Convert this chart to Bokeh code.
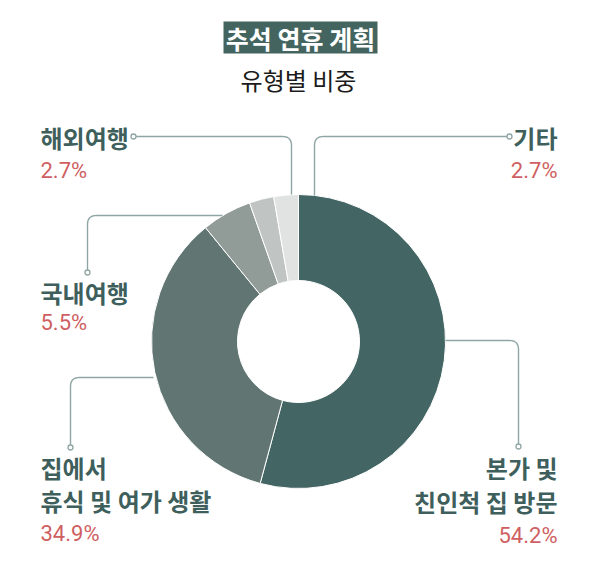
import numpy as np
from bokeh.plotting import figure
from bokeh.models import Range1d, ColumnDataSource
from bokeh.core.properties import value
from bokeh.embed import file_html
from bokeh.resources import INLINE

# ---- data ----
categories = ["본가 및|친인척 집 방문", "집에서|휴식 및 여가 생활", "국내여행", "해외여행", "기타"]
shares = [54.2, 34.9, 5.5, 2.7, 2.7]
slice_colors = ["#436664", "#617672", "#919b98", "#c0c5c3", "#e1e3e2"]
title_text = "추석 연휴 계획"
subtitle_text = "유형별 비중"

# ---- styles ----
LABEL_COLOR = "#3e5f5c"
PCT_COLOR = "#cf5f62"
LEADER_COLOR = "#8fa6a5"
KR = value("Noto Sans CJK KR")
NUM = value("Roboto")

W, H = 584, 566
p = figure(width=W, height=H, x_range=Range1d(0, W), y_range=Range1d(582 - H, 582),
           output_backend="svg", toolbar_location=None, min_border=0)
p.axis.visible = False
p.grid.visible = False
p.outline_line_color = None
p.background_fill_color = "white"
p.border_fill_color = "white"


def Y(s):
    return 582 - s


# ---- donut ----
frac = np.array(shares) / sum(shares)
cum = np.concatenate([[0.0], np.cumsum(frac)])
src = ColumnDataSource(dict(
    start=np.pi / 2 - cum[:-1] * 2 * np.pi,
    end=np.pi / 2 - cum[1:] * 2 * np.pi,
    color=slice_colors,
))
CX, CY = 298, Y(341)
p.annular_wedge(x=CX, y=CY, inner_radius=61, outer_radius=147,
                start_angle="start", end_angle="end", direction="clock",
                fill_color="color", line_color="white", line_width=1, source=src)


# ---- leader lines ----
def leader(a, b, c, r=9, n=10):
    a, b, c = np.array(a, float), np.array(b, float), np.array(c, float)
    d1 = (a - b) / np.linalg.norm(a - b)
    d2 = (c - b) / np.linalg.norm(c - b)
    s, e = b + d1 * r, b + d2 * r
    t = np.linspace(0, 1, n)[:, None]
    arc = (1 - t) ** 2 * s + 2 * (1 - t) * t * b + t ** 2 * e
    pts = np.vstack([a, arc, c])
    return list(pts[:, 0]), [Y(v) for v in pts[:, 1]]


leaders = [
    # (start, corner, end, dot at start?)
    ((133, 136), (291, 136), (291, 194), True),   # 해외여행
    ((509, 136), (314, 136), (314, 195), True),   # 기타
    ((222, 215), (87, 215), (87, 272), False),    # 국내여행
    ((153, 377), (70, 377), (70, 447), False),    # 집에서
    ((445, 340), (518, 340), (518, 446), False),  # 본가
]
dots_x, dots_y = [], []
for a, b, c, dot_start in leaders:
    xs, ys = leader(a, b, c)
    p.line(xs, ys, line_color=LEADER_COLOR, line_width=1.4)
    d = a if dot_start else c
    dots_x.append(d[0])
    dots_y.append(Y(d[1]))
p.scatter(dots_x, dots_y, marker="circle", size=5, fill_color="white",
          line_color=LEADER_COLOR, line_width=1.3)

# ---- labels ----
# index into categories/shares, anchor x, align, y of first line, line gap
label_pos = [
    (0, 557, "right", 467, 34),
    (1, 40, "left", 467, 33),
    (2, 40, "left", 292, 30),
    (3, 40, "left", 137, 33),
    (4, 557, "right", 137, 33),
]
for i, x, align, y0, gap in label_pos:
    lines = categories[i].split("|")
    for k, ln in enumerate(lines):
        p.text(x=[x], y=[Y(y0 + k * gap)], text=[ln], text_font=KR,
               text_font_style="bold", text_font_size="24px", text_color=LABEL_COLOR,
               text_align=align, text_baseline="middle")
    pct = f"{shares[i]}%"
    p.text(x=[x], y=[Y(y0 + len(lines) * gap)], text=[pct], text_font=NUM,
           text_font_size="22px", text_color=PCT_COLOR,
           text_align=align, text_baseline="middle")

# ---- title ----
p.quad(left=[223], right=[377], top=[Y(21)], bottom=[Y(53)],
       fill_color="#44655f", line_color=None)
p.text(x=[300], y=[Y(37)], text=[title_text], text_font=KR, text_font_style="bold",
       text_font_size="25px", text_color="white", text_align="center",
       text_baseline="middle")
p.text(x=[298], y=[Y(79)], text=[subtitle_text], text_font=KR,
       text_font_size="24px", text_color="#1c1c1c", text_align="center",
       text_baseline="middle")

open("out.html", "w").write(file_html(p, INLINE))
